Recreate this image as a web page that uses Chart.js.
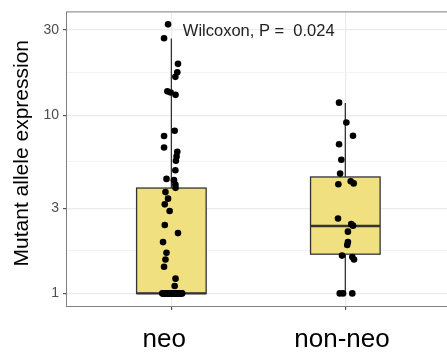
<!DOCTYPE html>
<html>
<head>
<meta charset="utf-8">
<script src="https://cdn.jsdelivr.net/npm/chart.js@4.4.1/dist/chart.umd.min.js"></script>
<style>
  html, body { margin: 0; padding: 0; background: #ffffff; overflow: hidden; }
  #wrap { width: 453px; height: 353px; }
</style>
</head>
<body>
<div id="wrap"><canvas id="c" width="453" height="353"></canvas></div>
<script>
// ---------------- data ----------------
const categories = ['neo', 'non-neo'];

// neo group: values and horizontal jitter (category units, centre = 1)
const neoValues = [
  32.3, 27.0, 19.4, 17.4, 16.4, 13.6, 13.4, 13.0, 8.18, 7.64, 6.58, 6.23, 5.87, 5.55,
  4.91, 4.39, 4.32, 4.08, 3.91, 3.70, 3.40, 3.16, 2.90, 2.42, 2.18, 1.94, 1.69, 1.55,
  1.41, 1.21, 1.10,
  1, 1, 1, 1, 1, 1, 1, 1, 1, 1, 1, 1, 1, 1, 1, 1,
  1, 1, 1, 1, 1, 1, 1, 1, 1, 1, 1, 1, 1, 1, 1, 1
];
const neoJitter = [
  0.981, 0.958, 1.038, 1.034, 1.023, 0.977, 0.996, 1.024, 1.019, 0.958, 0.958, 1.034, 1.030, 1.026,
  1.023, 0.972, 1.015, 1.023, 1.024, 0.966, 0.981, 0.962, 0.990, 0.962, 1.038, 0.952, 0.972, 0.966,
  0.958, 1.024, 1.019,
  0.948, 0.953, 0.959, 0.964, 0.969, 0.973, 0.978, 0.982, 0.988, 0.991, 0.996, 1.001, 1.006, 1.011, 1.014, 1.019,
  1.023, 1.028, 1.031, 1.036, 1.041, 1.044, 1.049, 1.053, 1.058, 1.062, 0.956, 1.017, 1.034, 1.008, 0.985, 1.026
];

// non-neo group
const nonNeoValues = [
  11.75, 9.1, 7.67, 6.87, 5.62, 4.70, 4.10, 4.26, 4.14, 2.63, 2.45, 2.40, 2.22, 1.94,
  1.87, 1.63, 1.60, 1.55, 1, 1, 1
];
const nonNeoJitter = [
  1.964, 2.006, 2.044, 1.964, 1.977, 1.970, 1.960, 2.031, 2.048, 1.958, 2.034, 2.044, 2.015, 2.015,
  2.011, 1.981, 2.040, 2.050, 1.968, 1.987, 2.040
];

// box statistics per category
const boxQ1 = [1, 1.66];
const boxMedian = [1, 2.39];
const boxQ3 = [3.9, 4.5];
const whiskerLow = [1, 1];
const whiskerHigh = [26.9, 11.7];

// axis ticks
const yTickValues = [1, 3, 10, 30];
const yMinorValues = [1.732, 5.477, 17.32];
const xLabelPositions = [0.959, 1.981];

const yTitle = 'Mutant allele expression';
const pLabel = 'Wilcoxon, P =  0.024';

// ---------------- chart ----------------
Chart.defaults.font.family = '"Liberation Sans", Arial, Helvetica, sans-serif';

const toPoints = (vals, xs) => vals.map((v, i) => ({ x: xs[i], y: v }));

const boxPlugin = {
  id: 'boxes',
  beforeDatasetsDraw(chart, args, opts) {
    const { ctx, scales: { x, y } } = chart;
    ctx.save();
    categories.forEach((c, i) => {
      const cx = i + 1;
      const xl = x.getPixelForValue(cx - opts.halfWidth);
      const xr = x.getPixelForValue(cx + opts.halfWidth);
      const xc = x.getPixelForValue(cx);
      const yq1 = y.getPixelForValue(boxQ1[i]);
      const yq3 = y.getPixelForValue(boxQ3[i]);
      const ymed = y.getPixelForValue(boxMedian[i]);
      const ylo = y.getPixelForValue(whiskerLow[i]);
      const yhi = y.getPixelForValue(whiskerHigh[i]);
      ctx.strokeStyle = opts.stroke;
      ctx.lineWidth = opts.lineWidth;
      ctx.beginPath();
      ctx.moveTo(xc, yhi); ctx.lineTo(xc, yq3);
      ctx.moveTo(xc, yq1); ctx.lineTo(xc, ylo);
      ctx.stroke();
      ctx.fillStyle = opts.fill;
      ctx.fillRect(xl, yq3, xr - xl, yq1 - yq3);
      ctx.strokeRect(xl, yq3, xr - xl, yq1 - yq3);
      ctx.lineWidth = opts.medianWidth;
      ctx.beginPath();
      ctx.moveTo(xl, ymed); ctx.lineTo(xr, ymed);
      ctx.stroke();
    });
    ctx.restore();
  },
  afterDatasetsDraw(chart, args, opts) {
    const { ctx, chartArea: a, scales: { x, y } } = chart;
    ctx.save();
    // annotation
    ctx.fillStyle = opts.textColor;
    ctx.font = opts.textFont;
    ctx.textAlign = 'left';
    ctx.textBaseline = 'middle';
    ctx.fillText(pLabel, x.getPixelForValue(opts.labelAt.x), y.getPixelForValue(opts.labelAt.y));
    // panel border
    ctx.strokeStyle = opts.border;
    ctx.lineWidth = 1;
    ctx.strokeRect(a.left - 0.5, a.top - 0.5, a.right - a.left + 1, a.bottom - a.top + 1);
    ctx.restore();
  }
};

// draws the y-axis title itself so it can sit slightly above the panel centre, as in the reference
const yTitlePlugin = {
  id: 'yTitle',
  afterDraw(chart, args, opts) {
    const { ctx, chartArea: a } = chart;
    ctx.save();
    ctx.translate(opts.x, (a.top + a.bottom) / 2 - opts.raise);
    ctx.rotate(-Math.PI / 2);
    ctx.fillStyle = opts.color;
    ctx.font = opts.font;
    ctx.textAlign = 'center';
    ctx.textBaseline = 'middle';
    ctx.fillText(yTitle, 0, 0);
    ctx.restore();
  }
};

const isMajor = v => yTickValues.some(t => Math.abs(t - v) < 1e-6);

new Chart(document.getElementById('c'), {
  type: 'scatter',
  data: {
    datasets: [
      { label: categories[0], data: toPoints(neoValues, neoJitter),
        pointRadius: 3.3, pointBackgroundColor: '#000', pointBorderWidth: 0, pointHoverRadius: 3.3 },
      { label: categories[1], data: toPoints(nonNeoValues, nonNeoJitter),
        pointRadius: 3.3, pointBackgroundColor: '#000', pointBorderWidth: 0, pointHoverRadius: 3.3 }
    ]
  },
  options: {
    responsive: false,
    animation: false,
    layout: { padding: { top: 9, right: 0, bottom: 0, left: 0 } },
    plugins: {
      legend: { display: false },
      tooltip: { enabled: false },
      boxes: {
        halfWidth: 0.2, fill: '#F0E07F', stroke: '#333333', lineWidth: 1.3, medianWidth: 2.4,
        border: '#7f7f7f', textColor: '#222222', textFont: '16.5px "Liberation Sans", Arial, sans-serif',
        labelAt: { x: 1.066, y: 29.3 }
      },
      yTitle: {
        x: 22.6, raise: 6, color: '#000000', font: '21px "Liberation Sans", Arial, sans-serif'
      }
    },
    scales: {
      x: {
        type: 'linear', position: 'bottom', weight: 0,
        min: 0.4, max: 2.6,
        afterBuildTicks: s => { s.ticks = [{ value: 1 }, { value: 2 }]; },
        afterFit: s => { s.height = 4; },
        ticks: { display: false },
        grid: { color: '#ebebeb', lineWidth: 1.2, drawTicks: true, tickLength: 4, tickColor: '#555555' },
        border: { display: false }
      },
      x2: {
        type: 'linear', position: 'bottom', weight: 1,
        min: 0.4, max: 2.6,
        afterBuildTicks: s => { s.ticks = xLabelPositions.map(v => ({ value: v })); },
        afterFit: s => { s.height = 43; },
        ticks: {
          padding: 14, color: '#000000', font: { size: 26 }, maxRotation: 0, autoSkip: false,
          callback: (v, i) => categories[i]
        },
        grid: { display: false, drawTicks: false },
        border: { display: false }
      },
      y: {
        type: 'logarithmic', position: 'left',
        min: 0.85, max: 37.7,
        afterBuildTicks: s => {
          s.ticks = yTickValues.concat(yMinorValues).sort((a, b) => a - b).map(v => ({ value: v }));
        },
        afterFit: s => { s.width = 67; },
        ticks: {
          padding: 4, color: '#4d4d4d', font: { size: 14 }, autoSkip: false,
          callback: v => (isMajor(v) ? String(v) : '')
        },
        grid: {
          color: c => (c.tick && isMajor(c.tick.value) ? '#ebebeb' : '#f3f3f3'),
          lineWidth: c => (c.tick && isMajor(c.tick.value) ? 1.2 : 0.9),
          drawTicks: true, tickLength: 4,
          tickColor: c => (c.tick && isMajor(c.tick.value) ? '#555555' : 'rgba(0,0,0,0)')
        },
        border: { display: false },
        title: { display: false, text: yTitle }
      }
    }
  },
  plugins: [boxPlugin, yTitlePlugin]
});
</script>
</body>
</html>
